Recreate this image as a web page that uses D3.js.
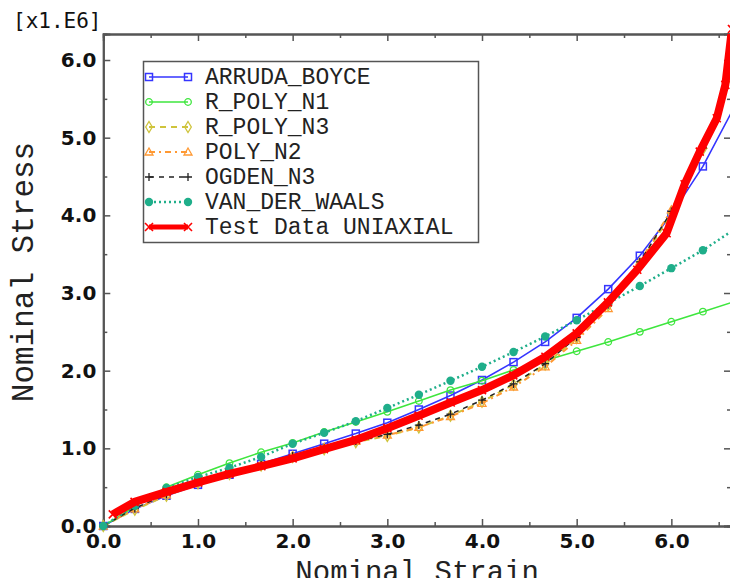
<!DOCTYPE html>
<html>
<head>
<meta charset="utf-8">
<script src="https://cdn.jsdelivr.net/npm/d3@7"></script>
<style>
  body { margin: 0; background: #fff; }
  svg { display: block; }
</style>
</head>
<body>
<svg id="chart" width="730" height="578"></svg>
<script>
// Strain values at which the fitted material models are evaluated
const modelStrain = [0, 0.333, 0.667, 1.0, 1.333, 1.667, 2.0, 2.333, 2.667, 3.0, 3.333,
                     3.667, 4.0, 4.333, 4.667, 5.0, 5.333, 5.667, 6.0, 6.333, 6.667];

// Nominal stress (x1.E6) predicted by each hyperelastic model
const arrudaBoyce = [0, 0.22, 0.39, 0.53, 0.66, 0.80, 0.93, 1.06, 1.19, 1.33, 1.50,
                     1.68, 1.88, 2.11, 2.37, 2.68, 3.05, 3.48, 4.01, 4.63, 5.40];
const rPolyN1     = [0, 0.25, 0.50, 0.66, 0.81, 0.95, 1.07, 1.21, 1.34, 1.47, 1.61,
                     1.75, 1.87, 2.01, 2.13, 2.25, 2.37, 2.50, 2.63, 2.76, 2.89];
const rPolyN3     = [0, 0.21, 0.39, 0.55, 0.67, 0.78, 0.89, 0.99, 1.08, 1.16, 1.27,
                     1.42, 1.60, 1.82, 2.08, 2.42, 2.84, 3.38, 4.02, 4.85, 5.90];
const polyN2      = [0, 0.22, 0.40, 0.56, 0.68, 0.79, 0.90, 1.01, 1.09, 1.17, 1.27,
                     1.41, 1.58, 1.79, 2.05, 2.39, 2.80, 3.40, 4.07, 4.90, 5.95];
const ogdenN3     = [0, 0.23, 0.41, 0.56, 0.68, 0.79, 0.90, 1.00, 1.09, 1.18, 1.30,
                     1.44, 1.62, 1.83, 2.09, 2.43, 2.85, 3.40, 4.05, 4.87, 5.95];
const vanDerWaals = [0, 0.26, 0.49, 0.63, 0.75, 0.89, 1.06, 1.20, 1.35, 1.52, 1.69,
                     1.87, 2.05, 2.24, 2.44, 2.65, 2.87, 3.09, 3.32, 3.55, 3.82];

// Uniaxial test data
const testStrain = [0.10, 0.33, 0.67, 1.00, 1.33, 1.67, 2.00, 2.33, 2.67, 3.00, 3.33, 3.67,
                    4.00, 4.33, 4.67, 5.00, 5.33, 5.64, 5.95, 6.14, 6.30, 6.48, 6.57, 6.64];
const testStress = [0.15, 0.31, 0.44, 0.56, 0.67, 0.77, 0.87, 0.99, 1.11, 1.26, 1.42, 1.59,
                    1.75, 1.94, 2.18, 2.48, 2.88, 3.30, 3.77, 4.40, 4.82, 5.25, 5.68, 6.40];

// Axis ticks
const xMajor = [0, 1, 2, 3, 4, 5, 6];
const xMinor = [0.5, 1.5, 2.5, 3.5, 4.5, 5.5, 6.5];
const yMajor = [0, 1, 2, 3, 4, 5, 6];
const yMinor = [0.5, 1.5, 2.5, 3.5, 4.5, 5.5];

const seriesNames = ["ARRUDA_BOYCE", "R_POLY_N1", "R_POLY_N3", "POLY_N2", "OGDEN_N3",
                     "VAN_DER_WAALS", "Test Data UNIAXIAL"];

const svg = d3.select("#chart");
const plot = { left: 103.3, right: 731, top: 34, bottom: 526 };

const x = d3.scaleLinear().domain([0, 6.63]).range([plot.left, plot.right]);
const y = d3.scaleLinear().domain([0, 6.335]).range([plot.bottom, plot.top]);

svg.append("defs").append("clipPath").attr("id", "plot-clip")
  .append("rect")
  .attr("x", plot.left).attr("y", plot.top)
  .attr("width", plot.right - plot.left).attr("height", plot.bottom - plot.top);

// Frame and ticks
const axisColor = "#555";
function styleAxis(g) {
  g.select(".domain").attr("stroke", axisColor).attr("stroke-width", 2);
  g.selectAll(".tick line").attr("stroke", axisColor).attr("stroke-width", 1.5);
  g.selectAll(".tick text")
    .attr("fill", "#111")
    .style("font-family", "'DejaVu Sans', Verdana, sans-serif")
    .style("font-weight", "bold")
    .style("font-size", "20px");
}
const fmt = d3.format(".1f");

// bottom
svg.append("g").attr("transform", `translate(0,${plot.bottom})`)
  .call(d3.axisBottom(x).tickValues(xMajor).tickSize(-7).tickPadding(8).tickFormat(fmt))
  .call(styleAxis);
svg.append("g").attr("transform", `translate(0,${plot.bottom})`)
  .call(d3.axisBottom(x).tickValues(xMinor).tickSize(-4).tickFormat(""))
  .call(styleAxis);
// top
svg.append("g").attr("transform", `translate(0,${plot.top})`)
  .call(d3.axisTop(x).tickValues(xMajor).tickSize(-7).tickFormat(""))
  .call(styleAxis);
svg.append("g").attr("transform", `translate(0,${plot.top})`)
  .call(d3.axisTop(x).tickValues(xMinor).tickSize(-4).tickFormat(""))
  .call(styleAxis);
// left
svg.append("g").attr("transform", `translate(${plot.left},0)`)
  .call(d3.axisLeft(y).tickValues(yMajor).tickSize(-7).tickPadding(7).tickFormat(fmt))
  .call(styleAxis);
svg.append("g").attr("transform", `translate(${plot.left},0)`)
  .call(d3.axisLeft(y).tickValues(yMinor).tickSize(-4).tickFormat(""))
  .call(styleAxis);
// right
svg.append("g").attr("transform", `translate(${plot.right},0)`)
  .call(d3.axisRight(y).tickValues(yMajor).tickSize(-7).tickFormat(""))
  .call(styleAxis);
svg.append("g").attr("transform", `translate(${plot.right},0)`)
  .call(d3.axisRight(y).tickValues(yMinor).tickSize(-4).tickFormat(""))
  .call(styleAxis);

// Axis titles
svg.append("text")
  .attr("x", 13).attr("y", 28)
  .style("font-family", "'DejaVu Sans Mono', monospace")
  .style("font-size", "21px")
  .attr("fill", "#111")
  .text("[x1.E6]");

svg.append("text")
  .attr("x", (plot.left + 731) / 2 + 0).attr("y", 581)
  .attr("text-anchor", "middle")
  .style("font-family", "'Liberation Mono', monospace")
  .style("font-size", "29px")
  .attr("fill", "#222")
  .text("Nominal Strain");

svg.append("text")
  .attr("transform", "translate(33,272) rotate(-90)")
  .attr("text-anchor", "middle")
  .style("font-family", "'Liberation Mono', monospace")
  .style("font-size", "31px")
  .attr("fill", "#222")
  .text("Nominal Stress");

// Marker shapes
const markers = {
  square: (g, c) => g.append("rect").attr("x", -3.5).attr("y", -3.5).attr("width", 7).attr("height", 7)
                     .attr("fill", "none").attr("stroke", c).attr("stroke-width", 1.5),
  circle: (g, c) => g.append("circle").attr("r", 3.3).attr("fill", "none").attr("stroke", c).attr("stroke-width", 1.3),
  diamond: (g, c) => g.append("path").attr("d", "M0,-5.5L3.3,0L0,5.5L-3.3,0Z")
                     .attr("fill", "none").attr("stroke", c).attr("stroke-width", 1.3),
  triangle: (g, c) => g.append("path").attr("d", "M0,-4L4,3L-4,3Z")
                     .attr("fill", "none").attr("stroke", c).attr("stroke-width", 1.3),
  plus: (g, c) => g.append("path").attr("d", "M-4,0H4M0,-4V4").attr("stroke", c).attr("stroke-width", 1.3),
  dot: (g, c) => g.append("circle").attr("r", 4.2).attr("fill", c).attr("stroke", "none"),
  cross: (g, c) => g.append("path").attr("d", "M-4,-4L4,4M-4,4L4,-4").attr("stroke", c).attr("stroke-width", 1.6)
};

const series = [
  { name: seriesNames[0], xs: modelStrain, ys: arrudaBoyce, color: "#3535ff", width: 1.6, dash: null, marker: "square" },
  { name: seriesNames[1], xs: modelStrain, ys: rPolyN1, color: "#3ee63e", width: 1.6, dash: null, marker: "circle" },
  { name: seriesNames[2], xs: modelStrain, ys: rPolyN3, color: "#cfc43c", width: 2, dash: "6,5", marker: "diamond" },
  { name: seriesNames[3], xs: modelStrain, ys: polyN2, color: "#ff9933", width: 2, dash: "6,4,2,4", marker: "triangle" },
  { name: seriesNames[4], xs: modelStrain, ys: ogdenN3, color: "#222", width: 1.5, dash: "5,5", marker: "plus" },
  { name: seriesNames[5], xs: modelStrain, ys: vanDerWaals, color: "#1fae8a", width: 2.5, dash: "2,3", marker: "dot" },
  { name: seriesNames[6], xs: testStrain, ys: testStress, color: "#ff0000", width: 8, dash: null, marker: "cross" }
];

const line = d3.line().x(d => x(d[0])).y(d => y(d[1]));
const dataLayer = svg.append("g");

series.forEach(s => {
  const pts = s.xs.map((v, i) => [v, s.ys[i]]);
  dataLayer.append("path")
    .attr("clip-path", "url(#plot-clip)")
    .attr("d", line(pts))
    .attr("fill", "none")
    .attr("stroke", s.color)
    .attr("stroke-width", s.width)
    .attr("stroke-linejoin", "round")
    .attr("stroke-dasharray", s.dash);
  const mg = dataLayer.append("g");
  pts.forEach(p => {
    const g = mg.append("g").attr("transform", `translate(${x(p[0])},${y(p[1])})`);
    markers[s.marker](g, s.color);
  });
});

// Legend
const legend = svg.append("g");
legend.append("rect")
  .attr("x", 143.5).attr("y", 61.5).attr("width", 335).attr("height", 181)
  .attr("fill", "#fff").attr("stroke", "#555").attr("stroke-width", 1.5);

series.forEach((s, i) => {
  const cy = 77 + i * 25;
  const row = legend.append("g");
  row.append("line")
    .attr("x1", 149).attr("x2", 188).attr("y1", cy).attr("y2", cy)
    .attr("stroke", s.color)
    .attr("stroke-width", s.name === seriesNames[6] ? 5 : s.width)
    .attr("stroke-dasharray", s.dash);
  [149, 188].forEach(mx => {
    markers[s.marker](row.append("g").attr("transform", `translate(${mx},${cy})`), s.color);
  });
  row.append("text")
    .attr("x", 205).attr("y", cy + 7)
    .style("font-family", "'Liberation Mono', monospace")
    .style("font-size", "23px")
    .attr("fill", "#222")
    .text(s.name);
});
</script>
</body>
</html>
